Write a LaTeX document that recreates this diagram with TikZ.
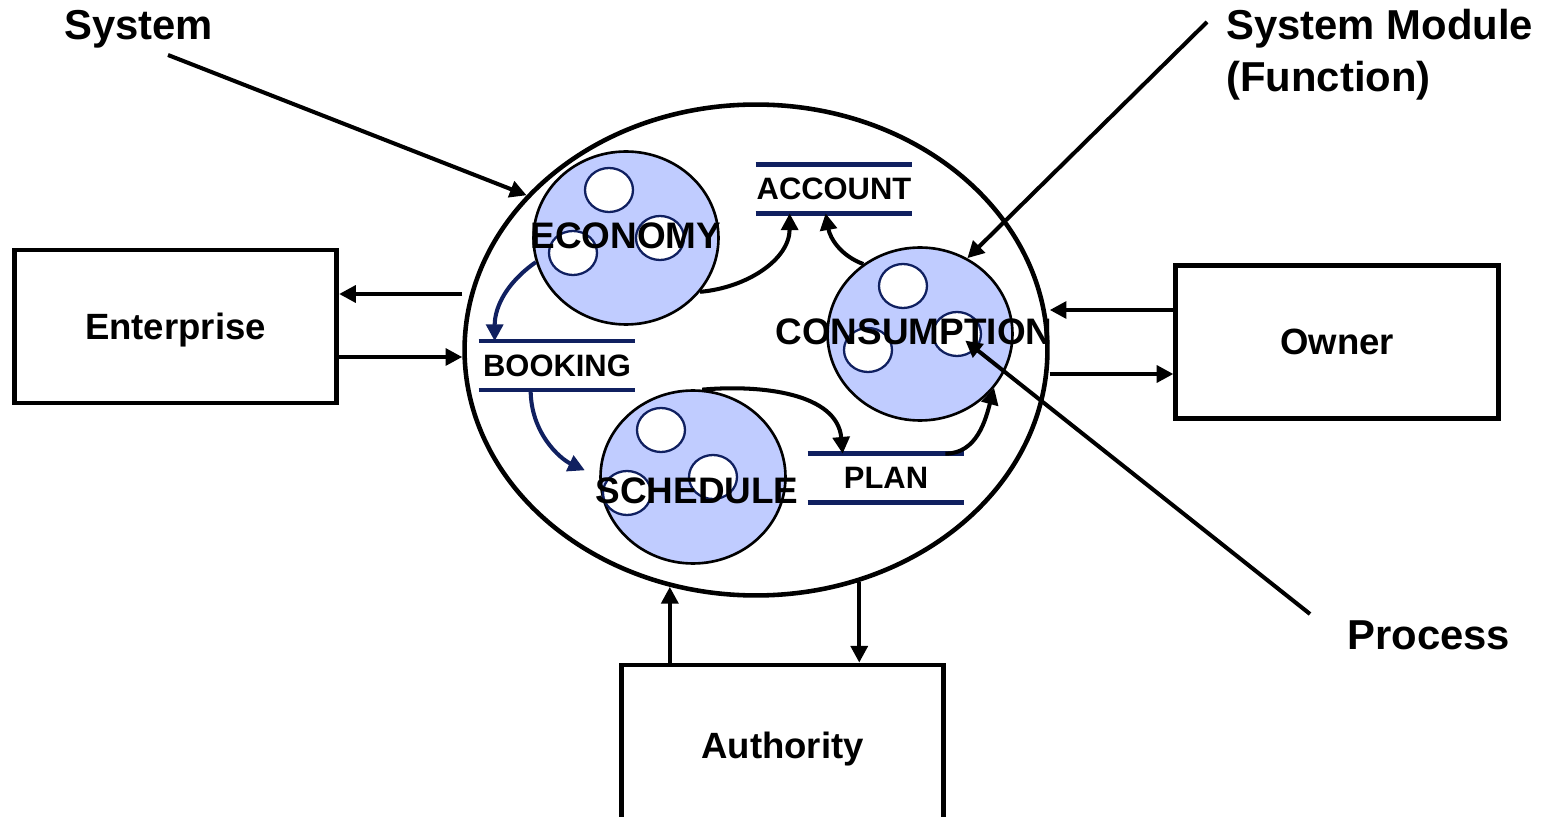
\documentclass[tikz,border=0pt]{standalone}
\usepackage{fontspec}
\setmainfont{Liberation Sans}
\usepackage{tikz}
\usetikzlibrary{positioning,shapes.geometric,arrows.meta,calc}
\usepackage{xcolor}
\definecolor{storeblue}{RGB}{16,32,96}
\definecolor{procfill}{RGB}{192,204,255}

\tikzset{
  box/.style={draw,line width=2.7pt,minimum width=6.45cm,minimum height=3.06cm,text depth=0pt,
    font=\fontsize{20.8}{25}\selectfont\bfseries},
  proc/.style={ellipse,draw,line width=1.5pt,fill=procfill,minimum width=3.7cm,
    minimum height=3.46cm,inner sep=0pt},
  sub/.style={ellipse,draw=storeblue,line width=1.3pt,fill=white,minimum width=0.96cm,
    minimum height=0.88cm,inner sep=0pt},
  proctext/.style={inner sep=0pt,font=\fontsize{21}{25}\selectfont\bfseries},
  store/.style={minimum width=3.12cm,minimum height=0.96cm,inner sep=0pt,
    font=\fontsize{17.6}{21}\selectfont\bfseries},
  storeline/.style={draw=storeblue,line width=2.5pt},
  tag/.style={inner sep=0pt,font=\fontsize{23.8}{29.6}\selectfont\bfseries},
  arr/.style={-{Triangle[length=9.5pt,width=9.5pt]},line width=2.3pt}
}

\begin{document}
\begin{tikzpicture}[x=0.02cm,y=-0.02cm]
    \useasboundingbox (0,0) rectangle (1549,817);

    % System boundary
    \node[ellipse,draw,line width=2.6pt,minimum width=11.66cm,minimum height=9.82cm] (system) at (756,350) {};

    % External entities
    \node[box] (enterprise) at (175.5,326.5) {Enterprise};
    \node[box] (owner) at (1337,342) {Owner};
    \node[box,minimum height=3.2cm] (authority) at (782.5,745) {Authority};

    % Processes
    \node[proc] (economy) at (626,238) {};
    \node[proc] (consumption) at (920,334) {};
    \node[proc] (schedule) at (693,477) {};

    \node[sub] (eco1) at (609,190) {};
    \node[sub] (eco2) at (660,238) {};
    \node[sub] (eco3) at (573,253) {};
    \node[sub] (cons1) at (903,286) {};
    \node[sub] (cons2) at (868,350) {};
    \node[sub] (cons3) at (957,334) {};
    \node[sub] (sched1) at (661,430) {};
    \node[sub] (sched2) at (713,477) {};
    \node[sub] (sched3) at (627,493) {};

    \node[proctext] (ecotext) at (626,236) {ECONOMY};
    \node[proctext] (constext) at (914,332) {CONSUMPTION};
    \node[proctext] (schedtext) at (697,491) {SCHEDULE};

    % Data stores
    \node[store] (account) at (834,189) {ACCOUNT};
    \node[store] (booking) at (557,365.5) {BOOKING};
    \node[store] (plan) at (886,478) {PLAN};
    \foreach \s in {account,booking,plan} {
        \draw[storeline] (\s.north west) -- (\s.north east);
        \draw[storeline] (\s.south west) -- (\s.south east);
    }

    % Flows inside the system
    \draw[arr] (economy.-36) to[out=5,in=-90] ([xshift=0.68cm]account.south west);
    \draw[arr] (consumption.129) to[out=160,in=-80] ([xshift=1.4cm]account.south west);
    \draw[arr,storeblue] (economy.195) to[out=215,in=90] ([xshift=0.32cm]booking.north west);
    \draw[arr,storeblue,shorten >=9pt] ([xshift=1.04cm]booking.south west) to[out=-90,in=155] (schedule.west);
    \draw[arr] (schedule.84) to[out=5,in=95] ([xshift=0.7cm]plan.north west);
    \draw[arr] ([xshift=-0.38cm]plan.north east) to[out=0,in=-105] (consumption.-36);

    % Flows to and from the entities
    \draw[arr] (system.west |- 0,294) -- (enterprise.east |- 0,294);
    \draw[arr] (enterprise.east |- 0,357) -- (system.west |- 0,357);
    \draw[arr] (owner.west |- 0,310) -- (system.east |- 0,310);
    \draw[arr] (system.east |- 0,374) -- (owner.west |- 0,374);
    \draw[arr] (authority.north -| system.250) -- (system.250);
    \draw[arr] (system.294) -- (authority.north -| system.294);

    % Callouts
    \node[tag,anchor=base west] (syslabel) at (64,40) {System};
    \node[tag,anchor=west,align=left] (modlabel) at (1226,55) {System Module\\(Function)};
    \node[tag,anchor=base west] (proclabel) at (1347,649) {Process};
    \coordinate (systail) at (168,55);
    \coordinate (modtail) at (1207,22);
    \coordinate (proctail) at (1310,614);
    \draw[arr] (systail) -- (system.146);
    \draw[arr] (modtail) -- (consumption.58);
    \draw[arr,shorten >=6pt] (proctail) -- (cons3.center);
\end{tikzpicture}
\end{document}
